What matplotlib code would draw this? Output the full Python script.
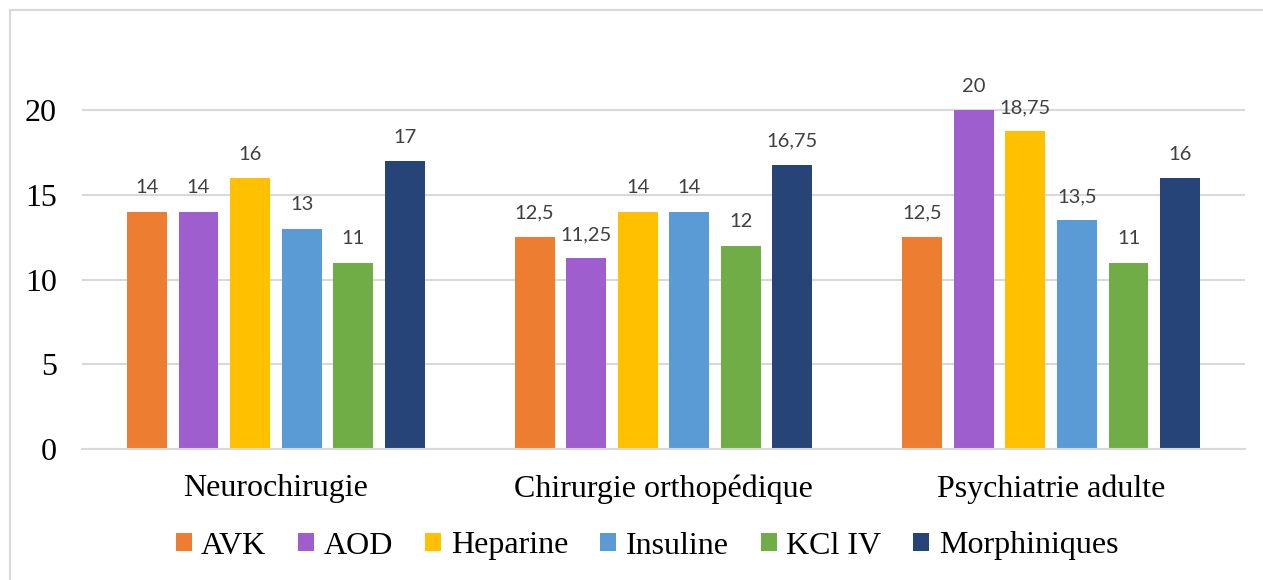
import matplotlib
matplotlib.use("Agg")
import matplotlib.pyplot as plt
from matplotlib.patches import Rectangle
import numpy as np

categories = ["Neurochirugie", "Chirurgie orthopédique", "Psychiatrie adulte"]
series_names = ["AVK", "AOD", "Heparine", "Insuline", "KCl IV", "Morphiniques"]
avk = [14, 12.5, 12.5]
aod = [14, 11.25, 20]
heparine = [16, 14, 18.75]
insuline = [13, 14, 13.5]
kcl_iv = [11, 12, 11]
morphiniques = [17, 16.75, 16]
yticks = [0, 5, 10, 15, 20]

series_values = [avk, aod, heparine, insuline, kcl_iv, morphiniques]
colors = ["#ED7D31", "#9E5ECE", "#FFC000", "#5B9BD5", "#70AD47", "#264478"]

W, H = 1263, 580
fig = plt.figure(figsize=(W / 100, H / 100), dpi=100)

# plot area in pixel coordinates
left, right = 82, 1245
y_zero, y_twenty = 449, 110
px_per_unit = (y_zero - y_twenty) / 20
ytop = 24
top = y_zero - ytop * px_per_unit
ax = fig.add_axes([left / W, 1 - y_zero / H, (right - left) / W, (y_zero - top) / H])

# outer chart frame (right and bottom edges fall outside the canvas)
fig.patches.append(Rectangle((10 / W, -0.05), 1.0, 1 - 10 / H + 0.05,
                             transform=fig.transFigure, fill=False,
                             edgecolor="#D9D9D9", linewidth=1.5))

x = np.arange(len(categories))
n = len(series_names)
step = 0.133
width = 0.103
label_font = dict(family="Lato", size=14.5, color="#404040")
serif = "Liberation Serif"
big = 23

for i, (name, vals, col) in enumerate(zip(series_names, series_values, colors)):
    pos = x + (i - (n - 1) / 2) * step
    bars = ax.bar(pos, vals, width=width, color=col, label=name, zorder=3)
    for b, v in zip(bars, vals):
        txt = f"{v:g}".replace(".", ",")
        ax.annotate(txt, (b.get_x() + b.get_width() / 2, v), xytext=(0, 11),
                    textcoords="offset points", ha="center", va="bottom",
                    **label_font)

ax.set_xlim(-0.5, len(categories) - 0.5)
ax.set_ylim(0, ytop)
ax.set_yticks(yticks)
ax.set_xticks(x)
ax.set_xticklabels(categories, family=serif, fontsize=big)
ax.set_yticklabels([str(t) for t in yticks], family=serif, fontsize=big)
ax.tick_params(axis="both", length=0)
ax.tick_params(axis="y", pad=18)
ax.tick_params(axis="x", pad=18)
ax.grid(axis="y", color="#D9D9D9", linewidth=1.5, zorder=0)
for s in ["top", "right", "left"]:
    ax.spines[s].set_visible(False)
ax.spines["bottom"].set_color("#D9D9D9")
ax.spines["bottom"].set_linewidth(1.5)
ax.spines["bottom"].set_zorder(4)

leg = fig.legend(loc="center", bbox_to_anchor=(647 / W, 1 - 546 / H), ncol=n,
                 frameon=False, prop=dict(family=serif, size=big),
                 handlelength=0.5, handleheight=0.5, handletextpad=0.3,
                 columnspacing=1.0, borderpad=0.0)

fig.savefig("out.png", dpi=100)
